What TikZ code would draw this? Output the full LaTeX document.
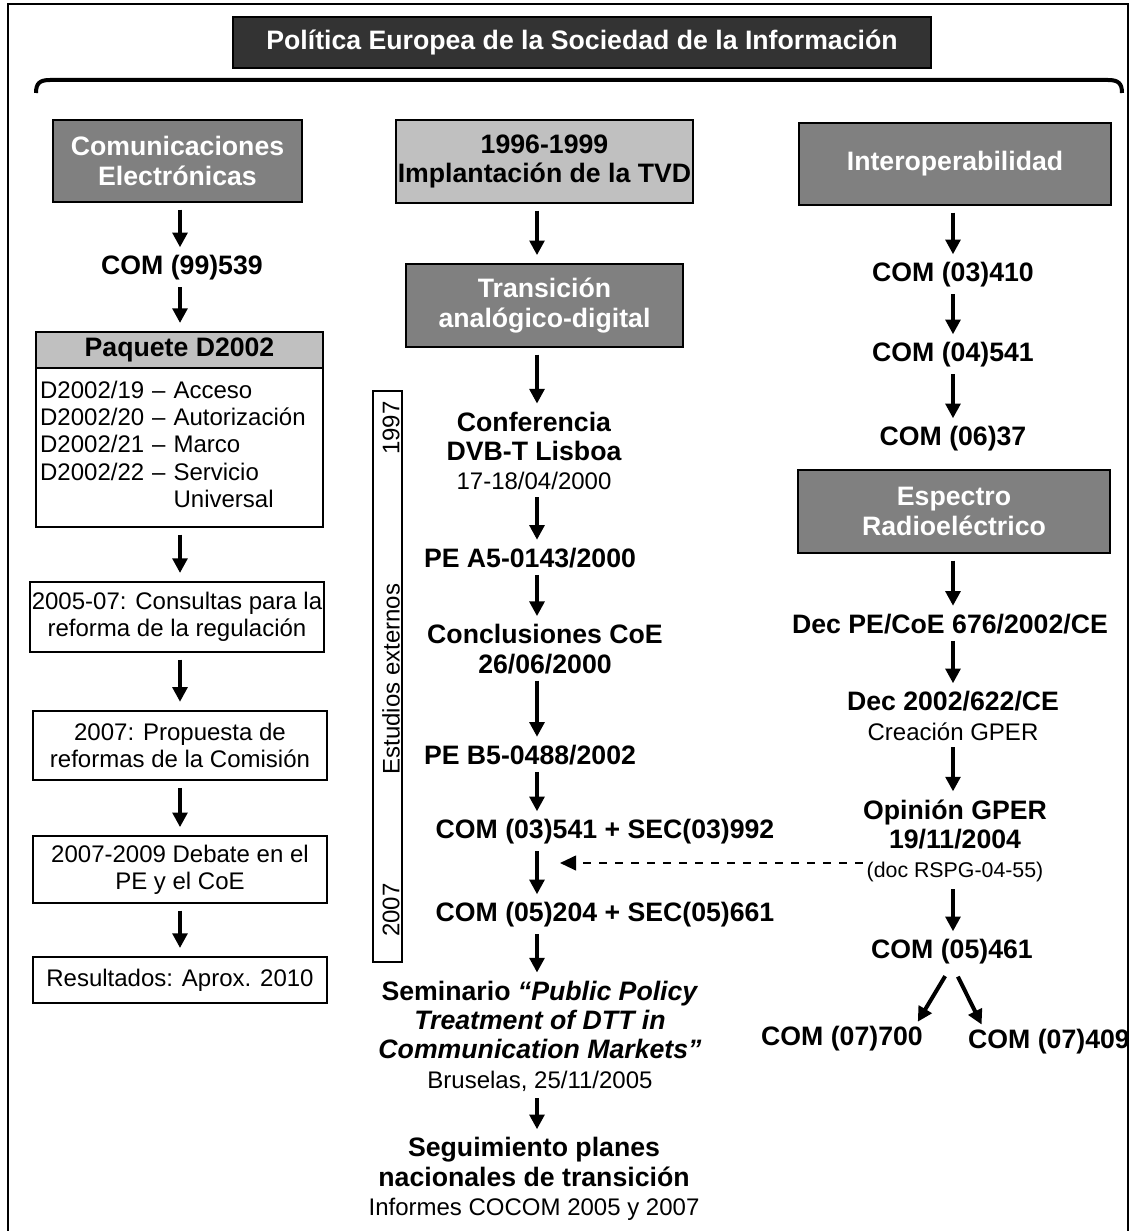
\documentclass[tikz,border=0pt]{standalone}
\usepackage{fontspec}
\setmainfont{Liberation Sans}
\usetikzlibrary{arrows.meta}

\definecolor{oscuro}{HTML}{333333}
\definecolor{gris}{HTML}{808080}
\definecolor{grisclaro}{HTML}{C0C0C0}

\newcommand{\letranegrita}{\bfseries\fontsize{20}{22}\selectfont}
\newcommand{\letrafina}{\mdseries\fontsize{18}{20.5}\selectfont}
\newcommand{\letrapeq}{\mdseries\fontsize{16}{18}\selectfont}

\tikzset{
  caja/.style = {draw, line width=1.5pt, fill=gris, text=white, font=\letranegrita, align=center, inner xsep=1pt},
  cajaclara/.style = {caja, fill=grisclaro, text=black},
  cajablanca/.style = {draw, line width=1.5pt, fill=white, font=\letrafina, align=center, inner xsep=1pt},
  etiqueta/.style = {font=\letranegrita, align=center, inner sep=0pt},
  flecha/.style = {-{Triangle[length=11pt, width=11pt]}, line width=3pt, shorten <=5pt, shorten >=6pt},
  discontinua/.style = {-{Triangle[length=12pt, width=11pt]}, line width=1.5pt, dash pattern=on 6pt off 6pt}
}

\begin{document}
\begin{tikzpicture}[x=0.75pt, y=-0.75pt]
\useasboundingbox (0,0) rectangle (1136,1231);

% Marco exterior y titulo
\draw[line width=1.5pt] (8,1240) -- (8,4) -- (1128,4) -- (1128,1240);
\node[draw, line width=1pt, fill=oscuro, text=white, font=\letranegrita, minimum width=523.5pt, minimum height=38.25pt] (titulo) at (582,42.5) {Política Europea de la Sociedad de la Información};
\draw[line width=3pt] (36,93) .. controls (36,83) and (40,80) .. (50,80) -- (1108,80) .. controls (1118,80) and (1122,83) .. (1122,93);

% Ejes de las tres columnas
\coordinate (ejeA) at (180,0);
\coordinate (ejeB) at (537,0);
\coordinate (ejeC) at (953,0);

% Columna izquierda
\node[caja, minimum width=186.75pt, minimum height=61.5pt] (ce) at (177.5,161) {Comunicaciones\\Electrónicas};
\node[etiqueta] (com99) at (182,268) {COM (99)539};
\node[cajaclara, minimum width=215.25pt, minimum height=27pt] (paqhead) at (179.5,350) {Paquete D2002};
\node[cajablanca, minimum height=119.25pt, inner xsep=3pt, text width=209pt, align=left] (paqlist) at (179.5,447.5)
  {\begin{tabular}{@{}l@{}l@{}}
   D2002/19 --~ & Acceso\\
   D2002/20 --~ & Autorización\\
   D2002/21 --~ & Marco\\
   D2002/22 --~ & Servicio\\
                & Universal
   \end{tabular}};
\node[cajablanca, minimum width=220.5pt, minimum height=52.5pt] (consultas) at (177,617) {2005-07: Consultas para la\\reforma de la regulación};
\node[cajablanca, minimum width=220.5pt, minimum height=52pt] (propuesta) at (180,745.5) {2007: Propuesta de\\reformas de la Comisión};
\node[cajablanca, minimum width=220.5pt, minimum height=50pt] (debate) at (180,869.5) {2007-2009 Debate en el\\PE y el CoE};
\node[cajablanca, minimum width=220.5pt, minimum height=34.5pt] (resultados) at (180,980) {Resultados: Aprox. 2010};

\draw[flecha] (ce.south -| ejeA) -- (com99.north -| ejeA);
\draw[flecha] (com99.south -| ejeA) -- (paqhead.north -| ejeA);
\draw[flecha] (paqlist.south -| ejeA) -- (consultas.north -| ejeA);
\draw[flecha] (consultas.south -| ejeA) -- (propuesta.north -| ejeA);
\draw[flecha] (propuesta.south -| ejeA) -- (debate.north -| ejeA);
\draw[flecha] (debate.south -| ejeA) -- (resultados.north -| ejeA);

% Columna central
\node[cajaclara, minimum width=207.75pt, minimum height=62pt] (impl) at (544.5,161.5) {1996-1999\\Implantación de la TVD};
\node[caja, minimum width=207.75pt, minimum height=62pt] (trans) at (544.5,305.5) {Transición\\analógico-digital};
\node[etiqueta] (conf) at (534,451) {Conferencia\\DVB-T Lisboa\\{\letrafina 17-18/04/2000}};
\node[etiqueta] (pea5) at (530,558) {PE A5-0143/2000};
\node[etiqueta] (concl) at (545,649) {Conclusiones CoE\\26/06/2000};
\node[etiqueta] (peb5) at (530,755) {PE B5-0488/2002};
\node[etiqueta] (com03) at (605,832) {COM (03)541 + SEC(03)992};
\node[etiqueta] (com05) at (605,915) {COM (05)204 + SEC(05)661};
\node[etiqueta] (semi) at (540,1036) {Seminario \textit{“Public Policy}\\\textit{Treatment of DTT in}\\\textit{Communication Markets”}\\{\letrafina Bruselas, 25/11/2005}};
\node[etiqueta] (segui) at (534,1179) {Seguimiento planes\\nacionales de transición\\{\letrafina Informes COCOM 2005 y 2007}};

\draw[flecha] (impl.south -| ejeB) -- (trans.north -| ejeB);
\draw[flecha] (trans.south -| ejeB) -- (conf.north -| ejeB);
\draw[flecha] (conf.south -| ejeB) -- (pea5.north -| ejeB);
\draw[flecha] (pea5.south -| ejeB) -- (concl.north -| ejeB);
\draw[flecha] (concl.south -| ejeB) -- (peb5.north -| ejeB);
\draw[flecha] (peb5.south -| ejeB) -- (com03.north -| ejeB);
\draw[flecha] (com03.south -| ejeB) -- (com05.north -| ejeB);
\draw[flecha] (com05.south -| ejeB) -- (semi.north -| ejeB);
\draw[flecha] (semi.south -| ejeB) -- (segui.north -| ejeB);

% Recuadro vertical de estudios externos
\node[draw, line width=1.2pt, minimum width=21.75pt, minimum height=428.25pt] (estudios) at (387.5,676.5) {};
\node[rotate=90, font=\letrafina, inner sep=0pt] (anio1) at (391,428) {1997};
\node[rotate=90, font=\letrafina, inner sep=0pt] (estext) at (391,679) {Estudios externos};
\node[rotate=90, font=\letrafina, inner sep=0pt] (anio2) at (391,910) {2007};

% Columna derecha
\node[caja, minimum width=234pt, minimum height=61.5pt] (interop) at (955,164) {Interoperabilidad};
\node[etiqueta] (com0341) at (953,275) {COM (03)410};
\node[etiqueta] (com04) at (953,355) {COM (04)541};
\node[etiqueta] (com06) at (953,439) {COM (06)37};
\node[caja, minimum width=234pt, minimum height=62pt] (espectro) at (954,511.5) {Espectro\\Radioeléctrico};
\node[etiqueta] (decpe) at (950,624) {Dec PE/CoE 676/2002/CE};
\node[etiqueta] (dec2002) at (953,716) {Dec 2002/622/CE\\{\letrafina Creación GPER}};
\node[etiqueta] (opinion) at (955,841) {Opinión GPER\\19/11/2004\\{\letrapeq (doc RSPG-04-55)}};
\node[etiqueta] (com0546) at (952,952) {COM (05)461};
\node[etiqueta] (com0770) at (842,1039) {COM (07)700};
\node[etiqueta] (com0740) at (1049,1042) {COM (07)409};

\draw[flecha] (interop.south -| ejeC) -- (com0341.north -| ejeC);
\draw[flecha] (com0341.south -| ejeC) -- (com04.north -| ejeC);
\draw[flecha] (com04.south -| ejeC) -- (com06.north -| ejeC);
\draw[flecha] (espectro.south -| ejeC) -- (decpe.north -| ejeC);
\draw[flecha] (decpe.south -| ejeC) -- (dec2002.north -| ejeC);
\draw[flecha] (dec2002.south -| ejeC) -- (opinion.north -| ejeC);
\draw[flecha] (opinion.south -| ejeC) -- (com0546.north -| ejeC);
\draw[flecha, shorten <=10pt, shorten >=4pt] (com0546.south) -- ([xshift=-6pt]com0770.north east);
\draw[flecha, shorten <=10pt, shorten >=4pt] (com0546.south) -- ([xshift=12pt]com0740.north west);

% Flecha discontinua desde la opinion del GPER
\coordinate (llegada) at (560,863);
\draw[discontinua] (opinion.west |- llegada) -- (llegada);
\end{tikzpicture}
\end{document}
